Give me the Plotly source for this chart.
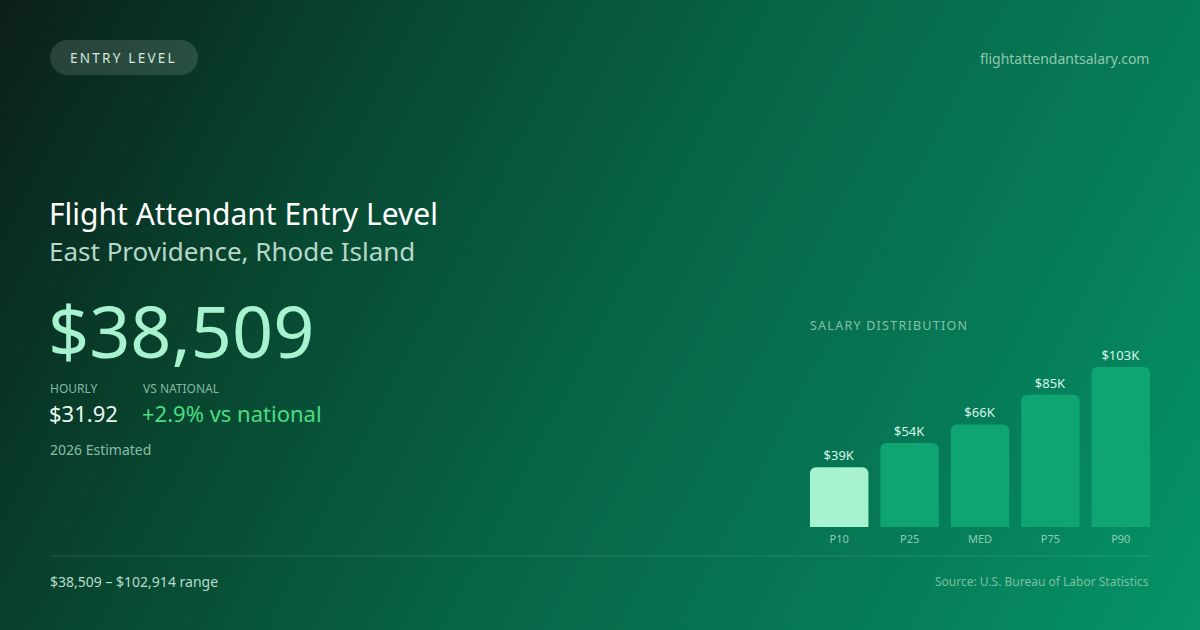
import base64
import math
import plotly.graph_objects as go

# ---- data ----
categories = ["P10", "P25", "MED", "P75", "P90"]
values = [38509, 54000, 66000, 85000, 102914]
value_labels = ["$39K", "$54K", "$66K", "$85K", "$103K"]

badge_text = "ENTRY LEVEL"
site_text = "flightattendantsalary.com"
title_text = "Flight Attendant Entry Level"
subtitle_text = "East Providence, Rhode Island"
headline_value = "$38,509"
hourly_label = "HOURLY"
hourly_value = "$31.92"
national_label = "VS NATIONAL"
national_value = "+2.9% vs national"
estimate_text = "2026 Estimated"
dist_title = "SALARY DISTRIBUTION"
range_text = "$38,509 – $102,914 range"
source_text = "Source: U.S. Bureau of Labor Statistics"

W, H = 1200, 630
FONT = "Noto Sans, Open Sans, sans-serif"


def px(x):
    return x / W


def py(y):
    return 1 - y / H


def spaced(s, sep):
    return sep.join(list(s))


# background gradient as svg image
svg = f'''<svg xmlns="http://www.w3.org/2000/svg" width="{W}" height="{H}" viewBox="0 0 {W} {H}" preserveAspectRatio="none">
<defs>
<linearGradient id="g" gradientUnits="userSpaceOnUse" x1="0" y1="0" x2="{W}" y2="{H}">
<stop offset="0" stop-color="#0b1f19"/>
<stop offset="0.25" stop-color="#08452f"/>
<stop offset="0.5" stop-color="#076346"/>
<stop offset="0.78" stop-color="#067b58"/>
<stop offset="1" stop-color="#059467"/>
</linearGradient>
</defs>
<rect x="0" y="0" width="{W}" height="{H}" fill="url(#g)"/>
</svg>'''
svg_uri = "data:image/svg+xml;base64," + base64.b64encode(svg.encode()).decode()

bar_colors = ["#a7f3d0"] + ["#0ea572"] * (len(categories) - 1)

fig = go.Figure()
fig.add_trace(go.Bar(
    x=categories,
    y=values,
    marker=dict(color=bar_colors, line=dict(width=0)),
    text=value_labels,
    textposition="outside",
    cliponaxis=False,
    textfont=dict(family=FONT, size=13, color="#d6f5e6"),
    hoverinfo="skip",
))

base_y = 527
top_y = 340
ymax = values[-1] * (base_y - top_y) / (base_y - 367)

fig.update_layout(
    width=W, height=H,
    margin=dict(l=0, r=0, t=0, b=0),
    paper_bgcolor="#07553d",
    plot_bgcolor="rgba(0,0,0,0)",
    showlegend=False,
    bargap=0.17,
    barcornerradius=6,
    font=dict(family=FONT),
    xaxis=dict(
        domain=[px(804), px(1156)],
        anchor="y",
        showgrid=False, zeroline=False, showline=False,
        ticks="", ticklabelstandoff=4,
        tickfont=dict(family=FONT, size=11, color="#8fcdb2"),
        fixedrange=True,
    ),
    yaxis=dict(
        domain=[py(base_y), py(top_y)],
        range=[0, ymax],
        visible=False,
        fixedrange=True,
    ),
    images=[dict(
        source=svg_uri, xref="paper", yref="paper",
        x=0, y=1, sizex=1, sizey=1, sizing="stretch",
        xanchor="left", yanchor="top", layer="below",
    )],
)


def pill(x0, y0, x1, y1):
    r = (y1 - y0) / 2
    pts = []
    n = 12
    cx = x1 - r
    cy = (y0 + y1) / 2
    for i in range(n + 1):
        a = -math.pi / 2 + math.pi * i / n
        pts.append((cx + r * math.cos(a), cy + r * math.sin(a)))
    cx = x0 + r
    for i in range(n + 1):
        a = math.pi / 2 + math.pi * i / n
        pts.append((cx + r * math.cos(a), cy + r * math.sin(a)))
    return "M " + " L ".join(f"{px(x):.5f},{py(y):.5f}" for x, y in pts) + " Z"


fig.add_shape(type="path", xref="paper", yref="paper",
              path=pill(50, 40, 198, 75),
              fillcolor="rgba(255,255,255,0.13)", line=dict(width=0), layer="below")

# divider line
fig.add_shape(type="line", xref="paper", yref="paper",
              x0=px(50), x1=px(1150), y0=py(556), y1=py(556),
              line=dict(color="rgba(255,255,255,0.13)", width=1))


def text(x, y, s, size, color, anchor="left"):
    fig.add_annotation(x=px(x), y=py(y), xref="paper", yref="paper",
                       text=s, showarrow=False, xanchor=anchor, yanchor="middle",
                       font=dict(family=FONT, size=size, color=color))


text(68, 58, spaced(badge_text, "\u2006"), 13.5, "#d3e8de")
text(1151, 58, site_text, 14, "#8fc9b0", "right")
text(47, 213, title_text, 30, "#ffffff")
text(47, 251, subtitle_text, 26, "#b5d8c8")
text(46, 330, headline_value, 72, "#a7f3d0")
text(48, 388, hourly_label, 12, "#86b8a2")
text(141, 388, national_label, 12, "#86b8a2")
text(47, 413, hourly_value, 22, "#eaf7f0")
text(140, 413, national_value, 22, "#4ade80")
text(48, 449, estimate_text, 14, "#8bbba6")
text(808, 325, spaced(dist_title, "\u200a"), 12.5, "#86c2a8")
text(48, 581, range_text, 14, "#b9dccd")
text(1151, 581, source_text, 12, "#7fbfa3", "right")

fig.write_html("out.html", config={"displayModeBar": False},
               post_script="document.body.style.margin='0';document.body.style.padding='0';")
